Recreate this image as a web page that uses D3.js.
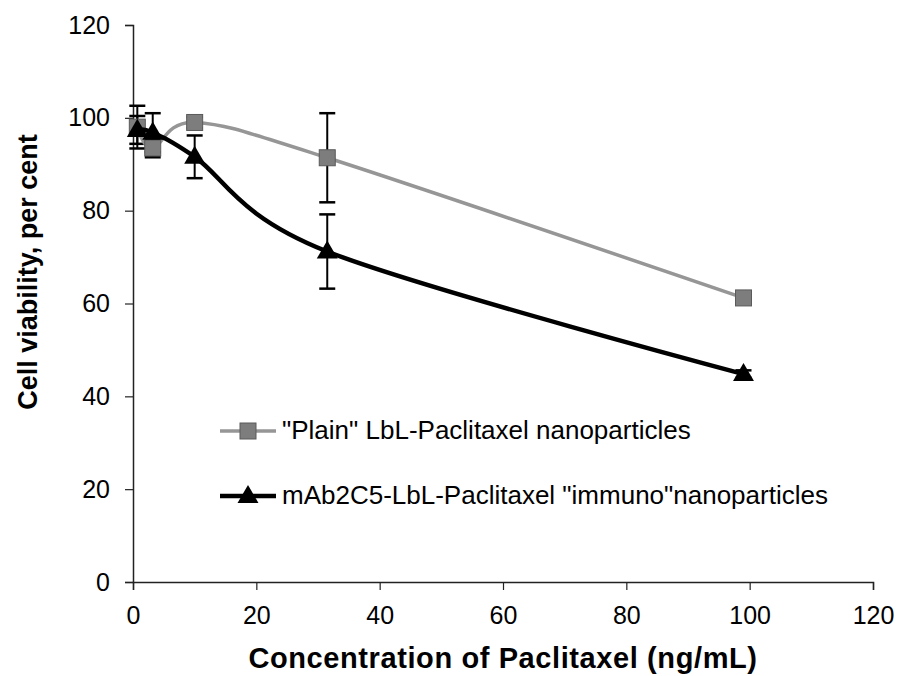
<!DOCTYPE html>
<html>
<head>
<meta charset="utf-8">
<script src="https://cdn.jsdelivr.net/npm/d3@7"></script>
<style>
  body { margin: 0; background: #fff; }
  text { font-family: "Liberation Sans", Arial, sans-serif; }
</style>
</head>
<body>
<div id="chart"></div>
<script>
// concentrations (ng/mL)
const conc = [0.7, 3.2, 10, 31.5, 99];
// "Plain" LbL-Paclitaxel nanoparticles
const plainVals = [98, 93.5, 99, 91.4, 61.2];
const plainErr = [4.6, 2, 1.2, 9.6, 0.6];
// mAb2C5-LbL-Paclitaxel "immuno"nanoparticles
const immunoVals = [97.4, 96.8, 91.6, 71.2, 44.8];
const immunoErr = [3, 4.2, 4.6, 8, 0.8];
const xTicks = [0, 20, 40, 60, 80, 100, 120];
const yTicks = [0, 20, 40, 60, 80, 100, 120];
const seriesNames = ['"Plain" LbL-Paclitaxel nanoparticles', 'mAb2C5-LbL-Paclitaxel "immuno"nanoparticles'];

const w = 902, h = 676;
const margin = {left: 133, right: 29, top: 25, bottom: 94};

const svg = d3.select("#chart").append("svg")
    .attr("width", w)
    .attr("height", h);

const x = d3.scaleLinear().domain([0, 120]).range([margin.left, w - margin.right]);
const y = d3.scaleLinear().domain([0, 120]).range([h - margin.bottom, margin.top]);

// axes
const xAxis = svg.append("g")
    .attr("transform", "translate(0," + y(0) + ")")
    .call(d3.axisBottom(x).tickValues(xTicks).tickSize(8).tickPadding(16));
const yAxis = svg.append("g")
    .attr("transform", "translate(" + x(0) + ",0)")
    .call(d3.axisLeft(y).tickValues(yTicks).tickSize(8).tickPadding(15));

[xAxis, yAxis].forEach(g => {
    g.select(".domain").attr("stroke", "#222").attr("stroke-width", 1.5);
    g.selectAll(".tick line").attr("stroke", "#222").attr("stroke-width", 1.2);
    g.selectAll(".tick text")
        .attr("font-size", 25)
        .attr("fill", "#000")
        .style("font-family", "'Liberation Sans', Arial, sans-serif");
});

svg.append("text")
    .attr("x", (x(0) + x(120)) / 2)
    .attr("y", 668)
    .attr("text-anchor", "middle")
    .attr("font-size", 29)
    .attr("font-weight", "bold")
    .attr("letter-spacing", 0.6)
    .text("Concentration of Paclitaxel (ng/mL)");

svg.append("text")
    .attr("transform", "translate(37,272) rotate(-90)")
    .attr("text-anchor", "middle")
    .attr("font-size", 27)
    .attr("font-weight", "bold")
    .text("Cell viability, per cent");

const series = [
    {vals: plainVals, err: plainErr, color: "#969696", width: 3.5, marker: "square"},
    {vals: immunoVals, err: immunoErr, color: "#000", width: 4.5, marker: "triangle"}
];

const line = d3.line()
    .x((d) => x(d[0]))
    .y((d) => y(d[1]))
    .curve(d3.curveCardinal.tension(0));

// error bars
series.forEach(s => {
    const g = svg.append("g");
    conc.forEach((c, i) => {
        const cx = x(c);
        const top = y(s.vals[i] + s.err[i]), bot = y(s.vals[i] - s.err[i]);
        g.append("line").attr("x1", cx).attr("x2", cx).attr("y1", top).attr("y2", bot)
            .attr("stroke", "#000").attr("stroke-width", 2);
        [top, bot].forEach(yy => {
            g.append("line").attr("x1", cx - 8).attr("x2", cx + 8).attr("y1", yy).attr("y2", yy)
                .attr("stroke", "#000").attr("stroke-width", 2.5);
        });
    });
});

function drawMarker(g, type, cx, cy) {
    if (type === "square") {
        g.append("rect")
            .attr("x", cx - 8).attr("y", cy - 8)
            .attr("width", 16).attr("height", 16)
            .attr("fill", "#7d7d7d")
            .attr("stroke", "#5a5a5a")
            .attr("stroke-width", 1);
    } else {
        g.append("path")
            .attr("d", d3.symbol().type(d3.symbolTriangle).size(190)())
            .attr("transform", "translate(" + cx + "," + (cy + 1) + ")")
            .attr("fill", "#000");
    }
}

series.forEach(s => {
    const pts = conc.map((c, i) => [c, s.vals[i]]);
    svg.append("path")
        .attr("d", line(pts))
        .attr("fill", "none")
        .attr("stroke", s.color)
        .attr("stroke-width", s.width);
    const g = svg.append("g");
    pts.forEach(p => drawMarker(g, s.marker, x(p[0]), y(p[1])));
});

// legend
const legendY = [431, 496];
series.forEach((s, i) => {
    const g = svg.append("g");
    g.append("line")
        .attr("x1", 220).attr("x2", 276)
        .attr("y1", legendY[i]).attr("y2", legendY[i])
        .attr("stroke", s.color)
        .attr("stroke-width", s.width);
    drawMarker(g, s.marker, 248, legendY[i]);
    g.append("text")
        .attr("x", 282)
        .attr("y", legendY[i] + 8)
        .attr("font-size", 26)
        .text(seriesNames[i]);
});
</script>
</body>
</html>
